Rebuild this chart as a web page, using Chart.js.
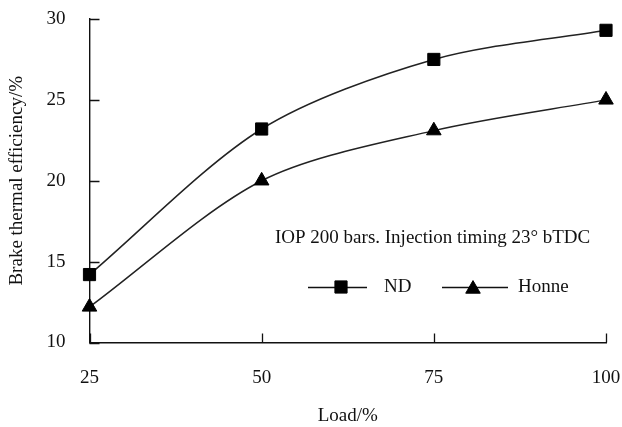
<!DOCTYPE html>
<html>
<head>
<meta charset="utf-8">
<title>Brake thermal efficiency vs load</title>
<script src="https://cdn.jsdelivr.net/npm/chart.js@4.4.1/dist/chart.umd.min.js"></script>
<style>
  html, body { margin: 0; padding: 0; background: #fff; }
  #wrap { width: 622px; height: 427px; }
</style>
</head>
<body>
<div id="wrap"><canvas id="bteChart" width="622" height="427"></canvas></div>
<script>
const loads = [25, 50, 75, 100];
const ndEff = [14.2, 23.2, 27.5, 29.3];
const honneEff = [12.2, 20.0, 23.1, 25.0];
const seriesNames = ['ND', 'Honne'];
const noteText = 'IOP 200 bars. Injection timing 23° bTDC';

const serif = "'Liberation Serif', 'Times New Roman', serif";
const ink = '#111';

const toPoints = (vals) => loads.map((x, i) => ({ x, y: vals[i] }));

// short inward tick marks on both axes
const innerTicks = {
  id: 'innerTicks',
  afterDatasetsDraw(chart) {
    const { ctx, chartArea, scales } = chart;
    ctx.save();
    ctx.strokeStyle = ink;
    ctx.lineWidth = 1.3;
    ctx.beginPath();
    scales.x.ticks.forEach((t) => {
      const px = Math.round(scales.x.getPixelForValue(t.value)) + 0.5;
      ctx.moveTo(px, chartArea.bottom);
      ctx.lineTo(px, chartArea.bottom - 9);
    });
    scales.y.ticks.forEach((t) => {
      const py = Math.round(scales.y.getPixelForValue(t.value)) + 0.5;
      ctx.moveTo(chartArea.left, py);
      ctx.lineTo(chartArea.left + 10, py);
    });
    ctx.stroke();
    ctx.restore();
  },
};

// note text and the line+marker legend inside the plot
const noteLegend = {
  id: 'noteLegend',
  afterDraw(chart) {
    const { ctx } = chart;
    ctx.save();
    ctx.fillStyle = ink;
    ctx.font = '19px ' + serif;
    ctx.textBaseline = 'middle';
    ctx.textAlign = 'left';
    ctx.fillText(noteText, 275, 238);

    const rows = [
      { x0: 308, x1: 367, mx: 341, tx: 384 },
      { x0: 442, x1: 508, mx: 473, tx: 518 },
    ];
    const y = 287;
    chart.data.datasets.forEach((ds, i) => {
      const r = rows[i];
      ctx.strokeStyle = ink;
      ctx.lineWidth = 1.4;
      ctx.beginPath();
      ctx.moveTo(r.x0, y + 0.5);
      ctx.lineTo(r.x1, y + 0.5);
      ctx.stroke();
      ctx.fillStyle = '#000';
      ctx.strokeStyle = '#000';
      ctx.lineWidth = 1;
      const my = ds.pointStyle === 'triangle' ? y + 2 : y;
      Chart.helpers.drawPoint(ctx, { pointStyle: ds.pointStyle, radius: ds.pointRadius, rotation: 0, borderWidth: 1 }, r.mx, my);
      ctx.fillStyle = ink;
      ctx.fillText(ds.label, r.tx, y);
    });
    ctx.restore();
  },
};

const lineStyle = {
  borderColor: '#222',
  borderWidth: 1.5,
  backgroundColor: '#000',
  pointRadius: 8.6,
  pointBorderWidth: 1,
  pointBorderColor: '#000',
  pointBackgroundColor: '#000',
  tension: 0.3,
  clip: false,
};

new Chart(document.getElementById('bteChart'), {
  type: 'line',
  data: {
    datasets: [
      { ...lineStyle, label: seriesNames[0], data: toPoints(ndEff), pointStyle: 'rect' },
      { ...lineStyle, label: seriesNames[1], data: toPoints(honneEff), pointStyle: 'triangle', pointRadius: 8.4 },
    ],
  },
  options: {
    responsive: false,
    animation: false,
    layout: { padding: { top: 19, right: 16, left: 0, bottom: 0 } },
    plugins: { legend: { display: false }, tooltip: { enabled: false } },
    scales: {
      x: {
        type: 'linear',
        min: 25,
        max: 100,
        ticks: { stepSize: 25, color: ink, font: { family: serif, size: 19 }, padding: 24 },
        grid: { display: false, drawTicks: false },
        border: { display: true, color: ink, width: 1.4 },
        title: { display: true, text: 'Load/%', color: ink, font: { family: serif, size: 19 }, padding: { top: 0, bottom: 0 } },
        afterFit: (scale) => {
          scale.height = 84.5;
          scale.paddingLeft = 0;
          scale.paddingRight = 0;
        },
      },
      y: {
        min: 10,
        max: 30,
        ticks: { stepSize: 5, color: ink, font: { family: serif, size: 19 }, padding: 24 },
        grid: { display: false, drawTicks: false },
        border: { display: true, color: ink, width: 1.4 },
        title: { display: true, text: 'Brake thermal efficiency/%', color: ink, font: { family: serif, size: 19 }, padding: { top: 6, bottom: 6 } },
        afterFit: (scale) => {
          scale.width = 89.5;
          scale.paddingTop = 0;
          scale.paddingBottom = 0;
        },
      },
    },
  },
  plugins: [innerTicks, noteLegend],
});
</script>
</body>
</html>
